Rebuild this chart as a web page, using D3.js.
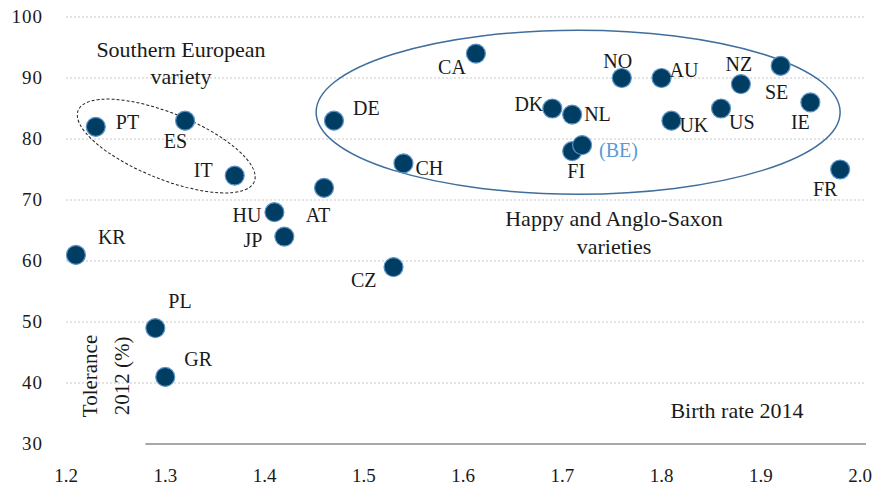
<!DOCTYPE html>
<html>
<head>
<meta charset="utf-8">
<script src="https://cdn.jsdelivr.net/npm/d3@7"></script>
<style>
  body { margin: 0; background: #fff; }
  svg { display: block; font-family: "Liberation Serif", "DejaVu Serif", serif; }
</style>
</head>
<body>
<script>
// country codes, birth rate 2014 (x) and tolerance 2012 in % (y)
var countries = ["KR","PT","ES","IT","HU","JP","PL","GR","AT","CZ","DE","CH","CA",
                 "DK","NL","FI","BE","NO","AU","UK","US","NZ","SE","IE","FR"];
var birthRate = [1.21,1.23,1.32,1.37,1.41,1.42,1.29,1.30,1.46,1.53,1.47,1.54,1.613,
                 1.69,1.71,1.71,1.72,1.76,1.80,1.81,1.86,1.88,1.92,1.95,1.98];
var tolerance = [61,82,83,74,68,64,49,41,72,59,83,76,94,
                 85,84,78,79,90,90,83,85,89,92,86,75];

var xTicks = [1.2,1.3,1.4,1.5,1.6,1.7,1.8,1.9,2.0];
var yTicks = [30,40,50,60,70,80,90,100];

var width = 881, height = 486;

var svg = d3.select("body").append("svg")
  .attr("width", width)
  .attr("height", height);

var x = d3.scaleLinear().domain([1.2, 2.0]).range([66, 860]);
var y = d3.scaleLinear().domain([30, 100]).range([444, 17]);

// dotted gridlines (not for the 30 line, that one is the axis)
svg.selectAll("line.grid")
  .data(yTicks.filter(function (d) { return d > 30; }))
  .enter().append("line")
  .attr("class", "grid")
  .attr("x1", x(1.2)).attr("x2", x(2.006))
  .attr("y1", function (d) { return y(d); })
  .attr("y2", function (d) { return y(d); })
  .attr("stroke", "#c8c8c8")
  .attr("stroke-width", 1)
  .attr("stroke-dasharray", "2,2");

// bottom axis line starts right of the y title
svg.append("line")
  .attr("x1", x(1.28)).attr("x2", x(2.006))
  .attr("y1", y(30)).attr("y2", y(30))
  .attr("stroke", "#8a8a8a")
  .attr("stroke-width", 1.5);

// tick labels
svg.selectAll("text.ytick")
  .data(yTicks)
  .enter().append("text")
  .attr("class", "ytick")
  .attr("x", 43)
  .attr("y", function (d) { return y(d) + 6; })
  .attr("text-anchor", "end")
  .attr("font-size", 19)
  .attr("letter-spacing", 1)
  .attr("fill", "#1a1a1a")
  .text(function (d) { return d; });

svg.selectAll("text.xtick")
  .data(xTicks)
  .enter().append("text")
  .attr("class", "xtick")
  .attr("x", function (d) { return x(d); })
  .attr("y", 482)
  .attr("text-anchor", "middle")
  .attr("font-size", 19)
  .attr("fill", "#1a1a1a")
  .text(function (d) { return d3.format(".1f")(d); });

// group ovals, centre in data units, radii in px
var southOval = { cx: 1.301, cy: 78.85, rx: 95, ry: 33, rot: 22 };
var happyOval = { cx: 1.716, cy: 84.4, rx: 262, ry: 82, rot: 0 };

svg.append("ellipse")
  .attr("transform", "translate(" + x(southOval.cx) + "," + y(southOval.cy) + ") rotate(" + southOval.rot + ")")
  .attr("rx", southOval.rx).attr("ry", southOval.ry)
  .attr("fill", "none")
  .attr("stroke", "#222")
  .attr("stroke-width", 1)
  .attr("stroke-dasharray", "3,2");

svg.append("ellipse")
  .attr("transform", "translate(" + x(happyOval.cx) + "," + y(happyOval.cy) + ") rotate(" + happyOval.rot + ")")
  .attr("rx", happyOval.rx).attr("ry", happyOval.ry)
  .attr("fill", "none")
  .attr("stroke", "#3f6e9c")
  .attr("stroke-width", 1.5);

// annotation texts
var notes = [
  { t: "Southern European", x: 181, y: 57 },
  { t: "variety", x: 181, y: 84 },
  { t: "Happy and Anglo-Saxon", x: 614, y: 226 },
  { t: "varieties", x: 614, y: 254 },
  { t: "Birth rate 2014", x: 737, y: 418 }
];
svg.selectAll("text.note")
  .data(notes)
  .enter().append("text")
  .attr("class", "note")
  .attr("x", function (d) { return d.x; })
  .attr("y", function (d) { return d.y; })
  .attr("text-anchor", "middle")
  .attr("font-size", 22)
  .attr("fill", "#1a1a1a")
  .text(function (d) { return d.t; });

svg.append("text")
  .attr("transform", "translate(97,376) rotate(-90)")
  .attr("text-anchor", "middle")
  .attr("font-size", 21)
  .attr("fill", "#1a1a1a")
  .text("Tolerance");
svg.append("text")
  .attr("transform", "translate(129,376) rotate(-90)")
  .attr("text-anchor", "middle")
  .attr("font-size", 21)
  .attr("fill", "#1a1a1a")
  .text("2012 (%)");

var points = countries.map(function (c, i) {
  return { name: c, br: birthRate[i], tol: tolerance[i] };
});

svg.selectAll("circle.dot")
  .data(points)
  .enter().append("circle")
  .attr("class", "dot")
  .attr("cx", function (d) { return x(d.br); })
  .attr("cy", function (d) { return y(d.tol); })
  .attr("r", 9.5)
  .attr("fill", "#003d63")
  .attr("stroke", "#5c94c8")
  .attr("stroke-width", 1.2);

// label placement: dx, dy (baseline), anchor
var labelPos = {
  KR: [22, -11, "start"], PT: [20, 2, "start"], ES: [2, 27, "end"], IT: [-22, 1, "end"],
  HU: [-13, 10, "end"], JP: [-22, 10, "end"], PL: [13, -20, "start"], GR: [19, -11, "start"],
  AT: [-6, 34, "middle"], CZ: [-17, 20, "end"], DE: [19, -6, "start"], CH: [12, 12, "start"],
  CA: [-10, 20, "end"], DK: [-9, 2, "end"], NL: [12, 6, "start"], FI: [4, 27, "middle"],
  BE: [17, 12, "start"], NO: [-4, -10, "middle"], AU: [8, -1, "start"], UK: [8, 11, "start"],
  US: [8, 20, "start"], NZ: [-2, -13, "middle"], SE: [-4, 33, "middle"], IE: [-10, 27, "middle"],
  FR: [-15, 26, "middle"]
};

svg.selectAll("text.lbl")
  .data(points)
  .enter().append("text")
  .attr("class", "lbl")
  .attr("x", function (d) { return x(d.br) + labelPos[d.name][0]; })
  .attr("y", function (d) { return y(d.tol) + labelPos[d.name][1]; })
  .attr("text-anchor", function (d) { return labelPos[d.name][2]; })
  .attr("font-size", 20)
  .attr("fill", function (d) { return d.name === "BE" ? "#5b9bd5" : "#1a1a1a"; })
  .text(function (d) { return d.name === "BE" ? "(BE)" : d.name; });
</script>
</body>
</html>
